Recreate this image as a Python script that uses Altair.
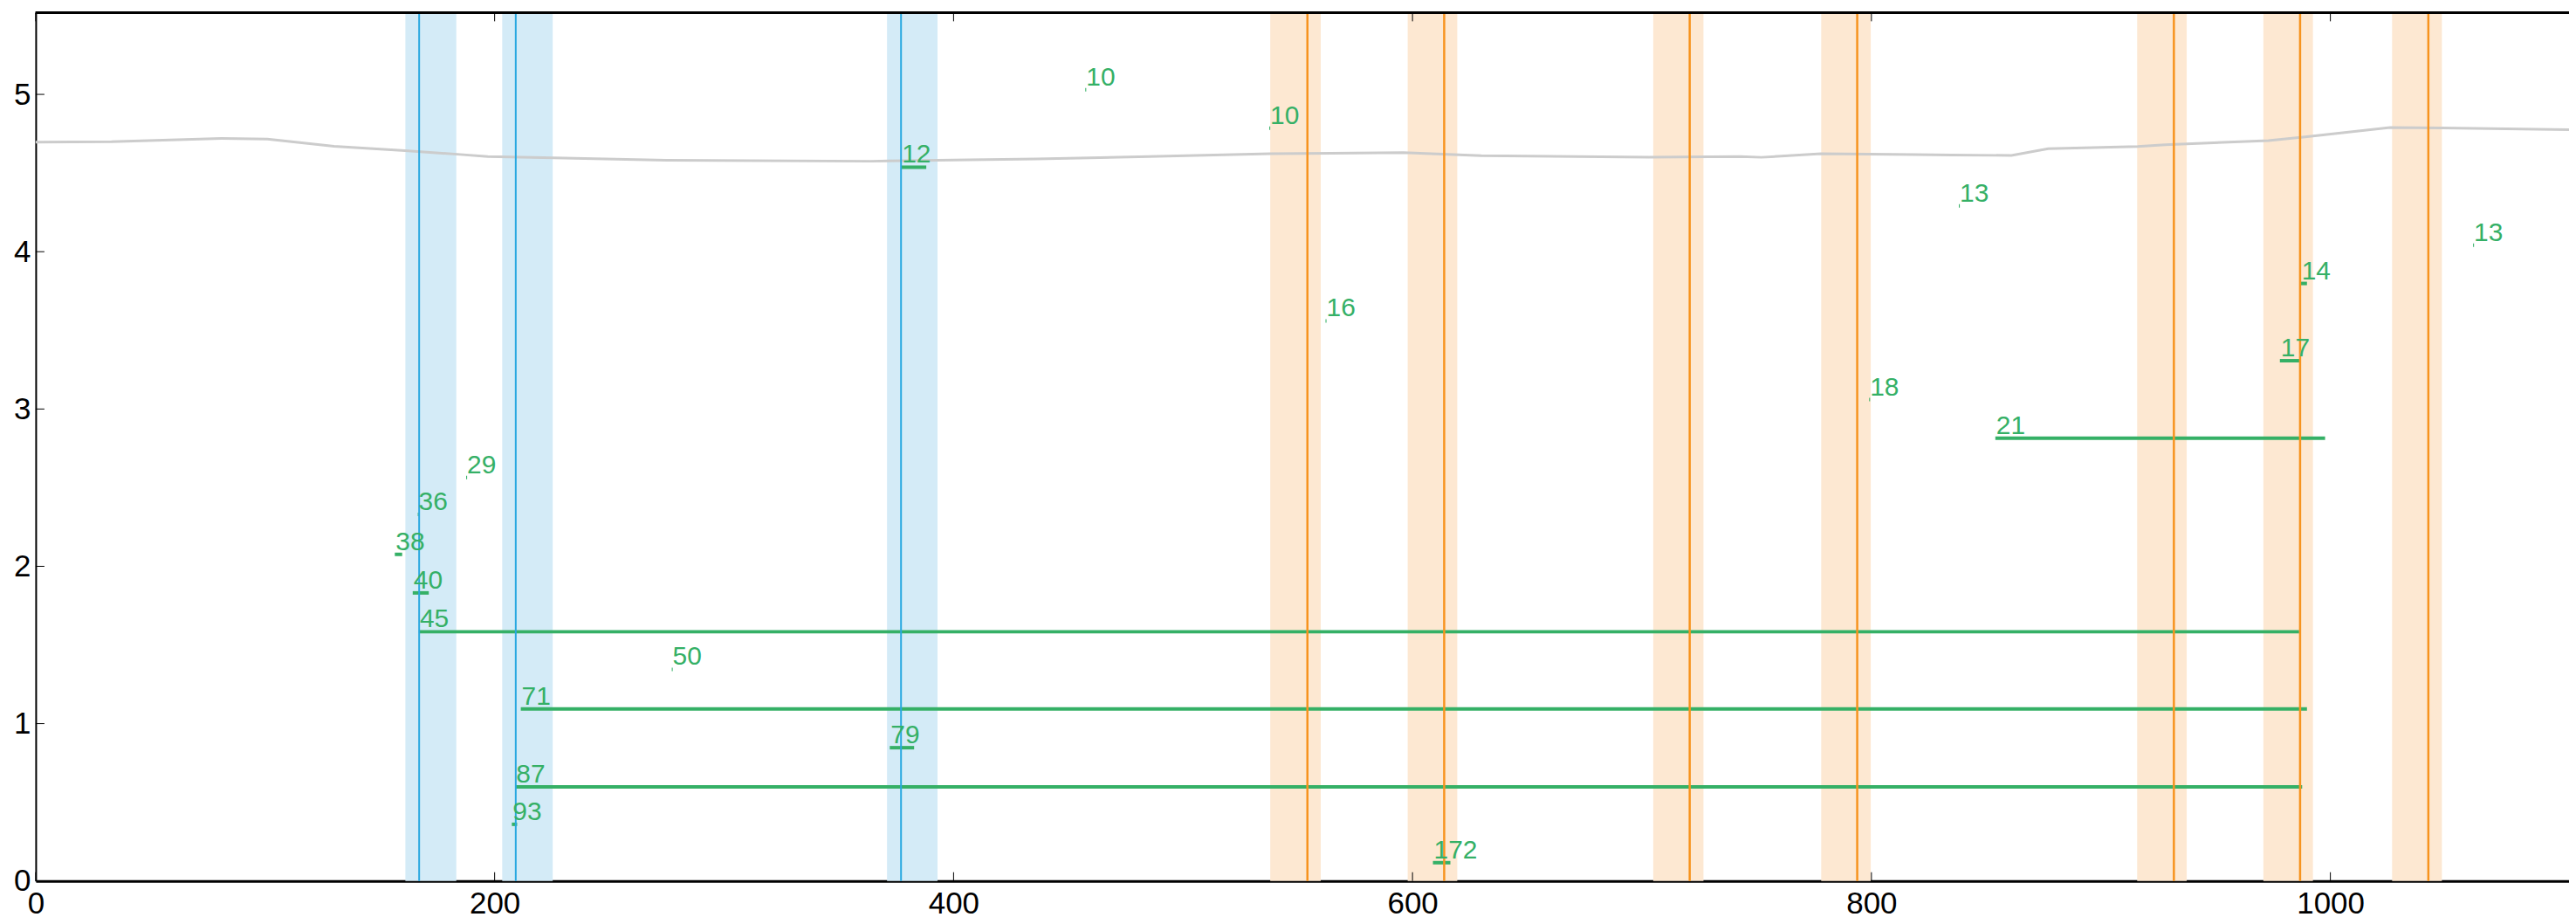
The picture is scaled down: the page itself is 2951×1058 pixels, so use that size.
import altair as alt
import pandas as pd

# ---- data ----
blue_lines = [167.1, 209.2, 377.1]
blue_lo = [161.1, 203.3, 371.0]
blue_hi = [183.3, 225.3, 393.0]

orange_lines = [554.2, 613.8, 720.8, 793.8, 931.8, 986.8, 1042.7]
orange_lo = [538.0, 597.9, 704.9, 778.1, 915.8, 970.8, 1026.9]
orange_hi = [560.0, 619.5, 726.8, 799.7, 937.4, 992.4, 1048.6]

gray_x = [0, 33, 81, 101, 130, 161, 185, 197, 226, 275, 364, 436, 485, 538, 596, 630,
          703, 743, 752, 778, 819, 835, 861, 877, 916, 928, 973, 989, 1026, 1049, 1104]
gray_y = [4.697, 4.699, 4.72, 4.716, 4.67, 4.642, 4.618, 4.605, 4.596, 4.581, 4.575, 4.59,
          4.605, 4.623, 4.63, 4.61, 4.601, 4.605, 4.60, 4.623, 4.618, 4.614, 4.612, 4.655,
          4.669, 4.68, 4.706, 4.73, 4.79, 4.786, 4.776]

seg_label = ["10", "10", "12", "13", "13", "14", "16", "17", "18", "21", "29",
             "36", "38", "40", "45", "50", "71", "79", "87", "93", "172"]
seg_start = [457.4, 537.6, 377.1, 838.1, 1062.2, 987.1, 562.1, 978.0, 799.0, 854.0, 187.6,
             166.5, 156.5, 164.3, 167.0, 277.2, 211.4, 372.2, 209.0, 207.5, 608.9]
seg_end = [457.8, 538.0, 388.1, 838.5, 1062.6, 989.8, 562.5, 986.6, 799.4, 997.7, 188.0,
           166.9, 159.7, 171.3, 986.4, 277.6, 989.8, 382.8, 987.7, 209.8, 616.5]
seg_y = [5.03, 4.785, 4.537, 4.291, 4.042, 3.798, 3.56, 3.307, 3.06, 2.815, 2.565,
         2.33, 2.076, 1.831, 1.584, 1.345, 1.093, 0.847, 0.598, 0.36, 0.116]

x_ticks = [0, 200, 400, 600, 800, 1000]
y_ticks = [0, 1, 2, 3, 4, 5]

X_MAX = 1104
Y_MAX = 5.52
W = 2910
H = 997

GREEN = "#35b066"

xs = alt.Scale(domain=[0, X_MAX], nice=False, zero=False)
ys = alt.Scale(domain=[0, Y_MAX], nice=False, zero=False)

blue_df = pd.DataFrame({"x": blue_lines, "lo": blue_lo, "hi": blue_hi})
orange_df = pd.DataFrame({"x": orange_lines, "lo": orange_lo, "hi": orange_hi})
gray_df = pd.DataFrame({"x": gray_x, "y": gray_y})
seg_df = pd.DataFrame({"label": seg_label, "x": seg_start, "x2": seg_end, "y": seg_y})
xt_df = pd.DataFrame({"t": x_ticks})
yt_df = pd.DataFrame({"t": y_ticks})

xaxis = alt.Axis(values=x_ticks, grid=False, ticks=False, tickSize=0, domain=True,
                 domainColor="black", domainWidth=3, labelFontSize=35,
                 labelFont="Liberation Sans", labelColor="black", labelPadding=9,
                 labelFlush=False, title=None, format="d")
yaxis = alt.Axis(values=y_ticks, grid=False, ticks=False, tickSize=0, domain=True,
                 domainColor="black", domainWidth=2, labelFontSize=35,
                 labelFont="Liberation Sans", labelColor="black", labelPadding=6,
                 labelFlush=False, title=None, format="d")

blue_band = alt.Chart(blue_df).mark_rect(color="#d4ebf7").encode(
    x=alt.X("lo:Q", scale=xs, axis=xaxis), x2="hi:Q",
    y=alt.value(0), y2=alt.value(H))
orange_band = alt.Chart(orange_df).mark_rect(color="#fde8d2").encode(
    x=alt.X("lo:Q", scale=xs), x2="hi:Q",
    y=alt.value(0), y2=alt.value(H))

gray = alt.Chart(gray_df).mark_line(color="#cccccc", strokeWidth=3).encode(
    x=alt.X("x:Q", scale=xs), y=alt.Y("y:Q", scale=ys, axis=yaxis))

segs = alt.Chart(seg_df).mark_rule(color=GREEN, strokeWidth=4, strokeCap="butt").encode(
    x=alt.X("x:Q", scale=xs), x2="x2:Q", y=alt.Y("y:Q", scale=ys))

blue_rule = alt.Chart(blue_df).mark_rule(color="#29a8e0", strokeWidth=2).encode(
    x=alt.X("x:Q", scale=xs))
orange_rule = alt.Chart(orange_df).mark_rule(color="#f7931e", strokeWidth=2.5).encode(
    x=alt.X("x:Q", scale=xs))

texts = alt.Chart(seg_df).mark_text(color=GREEN, fontSize=30, font="Liberation Sans",
                                    align="left", baseline="alphabetic", dx=1, dy=-5).encode(
    x=alt.X("x:Q", scale=xs), y=alt.Y("y:Q", scale=ys), text="label:N")

top_border = alt.Chart(xt_df).mark_rule(color="black", strokeWidth=3).encode(
    x=alt.value(0), x2=alt.value(W), y=alt.value(0))

tick_bottom = alt.Chart(xt_df).mark_rule(color="black", strokeWidth=1).encode(
    x=alt.X("t:Q", scale=xs), y=alt.value(H), y2=alt.value(H - 10))
tick_top = alt.Chart(xt_df).mark_rule(color="black", strokeWidth=1).encode(
    x=alt.X("t:Q", scale=xs), y=alt.value(0), y2=alt.value(10))
tick_left = alt.Chart(yt_df).mark_rule(color="black", strokeWidth=1).encode(
    y=alt.Y("t:Q", scale=ys), x=alt.value(0), x2=alt.value(10))

chart = alt.layer(
    blue_band, orange_band, gray, segs, blue_rule, orange_rule, texts,
    top_border, tick_bottom, tick_top, tick_left
).properties(
    width=W, height=H,
    autosize=alt.AutoSizeParams(type="none"),
    padding={"left": 33, "top": 5, "right": 0, "bottom": 44},
).configure_view(strokeWidth=0).configure(background="white")

chart.save("out.html", embed_options={"renderer": "svg", "actions": False})
